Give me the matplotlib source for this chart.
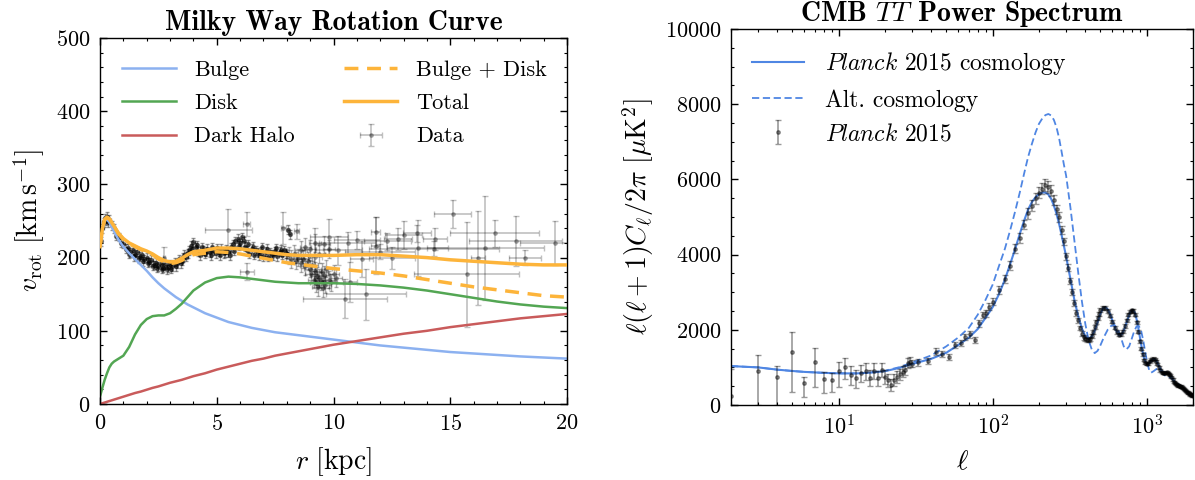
import matplotlib
matplotlib.use("Agg")
import matplotlib.pyplot as plt
from matplotlib.ticker import MultipleLocator

plt.rcParams['font.family'] = 'serif'
plt.rcParams['font.serif'] = ['cmr10']
plt.rcParams['mathtext.fontset'] = 'cm'
plt.rcParams['axes.formatter.use_mathtext'] = True
plt.rcParams['axes.unicode_minus'] = False

# ---------------- Milky Way rotation curve ----------------
r_model = [0, 0.1, 0.2, 0.3, 0.4, 0.5, 0.6, 0.8, 1.0, 1.25, 1.5, 1.75, 2.0, 2.25, 2.5,
           2.75, 3.0, 3.25, 3.5, 3.75, 4.0, 4.5, 5.0, 5.5, 6.0, 6.5, 7.0, 7.5, 8.0, 8.5,
           9.0, 10, 11, 12, 13, 14, 15, 16, 17, 18, 19, 20]
v_bulge = [215, 238, 250, 252, 248, 242, 236, 224, 215, 206, 198, 190, 182, 173, 165,
           158, 152, 146, 141, 136, 132, 124, 118, 112, 108, 104, 101, 98, 96, 94,
           92, 88, 84, 80, 77, 74, 71, 69, 67, 65, 63.5, 62]
v_disk = [10, 22, 33, 42, 50, 55, 58, 62, 66, 78, 95, 108, 116, 120, 121,
          121, 124, 130, 137, 146, 155, 166, 172, 174, 173, 171, 169, 167, 166, 165,
          165, 165, 164, 162, 159, 155, 150, 145, 140, 136, 133, 131]
v_halo = [0, 1, 2, 3, 4, 5, 6, 8, 10, 12.5, 15, 17, 19.5, 22, 24,
          26.5, 29, 31, 33, 35.5, 38, 42, 47, 51, 55, 59, 62, 66, 69, 72,
          75, 81, 86, 91, 96, 100, 105, 109, 113, 117, 120, 123]
v_bulge_disk = [215, 239, 252, 255, 253, 248, 243, 232, 225, 219, 215, 211, 208, 204, 198,
                194, 192, 193, 196, 201, 204, 206, 208, 207, 205, 202, 199, 196, 193, 191,
                189, 185, 182, 179, 175, 170, 165, 160, 156, 152, 148, 146]
v_total = [215, 239, 252, 255, 253, 248, 243, 233, 226, 220, 216, 212, 209, 205, 200,
           196, 194, 195, 199, 204, 208, 210, 213, 213, 212, 210, 208, 206, 204, 203,
           203, 203, 204, 204, 202, 200, 197, 195, 193, 191, 190, 190]

# dense inner data
r_in = [0.05, 0.1, 0.15, 0.2, 0.25, 0.3, 0.35, 0.4, 0.5, 0.6, 0.7, 0.8, 0.9, 1.0, 1.1,
        1.2, 1.3, 1.4, 1.5, 1.6, 1.7, 1.8, 1.9, 2.0, 2.1, 2.2, 2.3, 2.4, 2.5, 2.6,
        2.7, 2.8, 2.9, 3.0, 3.1, 3.2, 3.3, 3.4, 3.5, 3.6, 3.7, 3.8, 3.9, 4.0, 4.1,
        4.2, 4.3, 4.4, 4.5, 4.6, 4.7, 4.8, 4.9, 5.0, 5.1, 5.2, 5.3, 5.4, 5.5, 5.6,
        5.7, 5.8, 5.9, 6.0, 6.1, 6.2, 6.3, 6.4, 6.5, 6.6, 6.7, 6.8, 6.9, 7.0, 7.1,
        7.2, 7.3, 7.4, 7.5, 7.6, 7.7, 7.8, 7.9, 8.0]
v_in = [222, 240, 248, 254, 250, 256, 248, 252, 244, 240, 230, 228, 220, 219, 212,
        213, 207, 210, 204, 208, 201, 204, 198, 200, 194, 197, 190, 193, 188, 191,
        186, 190, 187, 191, 188, 194, 192, 198, 196, 204, 201, 210, 216, 221, 214,
        208, 203, 210, 205, 212, 207, 214, 209, 213, 208, 212, 206, 211, 207, 214,
        218, 222, 226, 220, 228, 215, 210, 205, 212, 204, 210, 203, 209, 202, 208,
        201, 207, 203, 209, 202, 208, 204, 210, 205]
# second row of the band (fills its thickness)
r_in2 = [1.25, 1.45, 1.65, 1.85, 2.05, 2.25, 2.45, 2.65, 2.85, 3.05, 3.25, 3.45,
         3.55, 3.75, 3.95, 4.15, 4.35, 4.55, 4.75, 4.95, 5.15, 5.35, 5.55, 5.75, 5.95,
         6.15, 6.35, 6.55, 6.75, 6.95, 7.15, 7.35, 7.55, 7.75, 7.95, 8.05, 8.15]
v_in2 = [205, 202, 199, 195, 193, 189, 186, 185, 184, 185, 188, 192,
         200, 206, 212, 217, 214, 208, 203, 206, 203, 207, 203, 209, 216,
         222, 218, 215, 207, 214, 212, 205, 213, 211, 206, 238, 232]
v_in_err = 6.0
r_in_err = 0.05

# cluster around 8-10 kpc
r_cl = [8.1, 8.2, 8.3, 8.4, 8.5, 8.6, 8.7, 8.8, 8.9, 9.0, 9.05, 9.1, 9.15, 9.2, 9.25,
        9.3, 9.35, 9.4, 9.45, 9.5, 9.55, 9.6, 9.65, 9.7, 9.8, 9.9, 10.0, 10.1,
        8.6, 8.8, 9.0, 9.2, 9.4, 9.6, 9.8]
v_cl = [203, 198, 205, 196, 200, 192, 198, 188, 195, 185, 178, 190, 170, 182, 165,
        175, 160, 172, 168, 180, 158, 176, 163, 185, 170, 166, 178, 172,
        210, 215, 212, 220, 205, 218, 212]
v_cl_err = 12.0
r_cl_err = 0.25

# outer data with individual errors
r_out = [2.75, 5.5, 6.28, 6.28, 7.85, 8.42, 9.2, 9.8, 10.2, 10.5, 10.6, 10.7, 11.0, 11.2,
         11.4, 11.8, 11.8, 12.0, 12.3, 12.5, 12.75, 13.0, 13.56, 13.6, 14.3, 14.35, 15.1,
         15.7, 16.2, 16.5, 16.9, 17.8, 18.2, 19.5]
v_out = [200, 238, 246, 181, 240, 236, 201, 228, 210, 144, 220, 167, 224, 198,
         150, 216, 235, 208, 222, 200, 226, 231, 233, 213, 212, 225, 260,
         177, 199, 213, 233, 223, 200, 220]
r_out_err = [0.05, 1.0, 0.15, 0.3, 0.1, 0.1, 0.3, 0.8, 1.0, 1.8, 1.2, 0.3, 1.0, 0.5,
             1.7, 0.2, 0.2, 1.5, 1.0, 1.0, 0.6, 0.8, 0.6, 1.3, 2.8, 0.5, 0.8,
             2.25, 0.3, 2.5, 1.9, 2.0, 0.7, 1.5]
v_out_err = [14, 28, 16, 11, 22, 10, 39, 25, 20, 27, 15, 27, 12, 25,
             35, 39, 20, 10, 12, 15, 15, 19, 12, 38, 10, 15, 19,
             72, 64, 71, 18, 34, 10, 30]

# ---------------- CMB TT spectrum ----------------
ell_model = [2, 3, 4, 5, 6, 8, 10, 13, 16, 20, 25, 30, 40, 50, 60, 70, 80, 90, 100, 110,
             120, 130, 140, 150, 160, 170, 180, 190, 200, 210, 220, 230, 240, 250, 260,
             270, 280, 290, 300, 320, 340, 360, 380, 400, 420, 440, 460, 480, 500, 520,
             540, 560, 580, 600, 630, 660, 690, 720, 750, 780, 810, 840, 870, 900, 930,
             960, 990, 1020, 1060, 1100, 1130, 1160, 1200, 1250, 1300, 1350, 1400, 1440,
             1480, 1530, 1580, 1630, 1680, 1730, 1780, 1840, 1900, 1960, 2000]
dl_model = [1035, 1000, 940, 905, 880, 855, 842, 840, 860, 900, 990, 1090, 1230, 1390,
            1600, 1790, 2020, 2320, 2600, 2950, 3330, 3750, 4150, 4550, 4900, 5200, 5400,
            5530, 5610, 5650, 5650, 5600, 5480, 5300, 5080, 4820, 4530, 4240, 3950, 3350,
            2780, 2350, 2030, 1830, 1760, 1820, 1980, 2200, 2420, 2570, 2600, 2540, 2410,
            2240, 2000, 1860, 1880, 2040, 2260, 2450, 2530, 2450, 2200, 1850, 1520, 1260,
            1120, 1080, 1150, 1220, 1220, 1160, 1040, 910, 860, 870, 830, 770, 690, 590,
            520, 500, 480, 440, 390, 330, 290, 260, 245]

ell_alt = [2, 3, 4, 5, 6, 8, 10, 13, 16, 20, 25, 30, 40, 50, 60, 70, 80, 90, 100, 110,
           120, 130, 140, 150, 160, 170, 180, 190, 200, 210, 220, 230, 240, 250, 260,
           270, 280, 290, 300, 320, 340, 360, 380, 400, 420, 440, 460, 480, 500, 530,
           560, 590, 620, 650, 680, 710, 740, 770, 800, 830, 860, 890, 920, 950, 980,
           1010, 1040, 1070, 1110, 1160, 1210, 1260, 1320, 1380, 1450, 1550, 1650, 1750,
           1850, 1950, 2000]
dl_alt = [1035, 1000, 940, 905, 880, 855, 842, 840, 865, 910, 1010, 1130, 1320, 1560,
          1800, 2050, 2400, 2800, 3200, 3700, 4150, 4650, 5150, 5650, 6150, 6600, 6950,
          7250, 7480, 7620, 7710, 7740, 7700, 7580, 7380, 7100, 6750, 6400, 6100, 5250,
          4350, 3500, 2750, 2150, 1720, 1480, 1380, 1440, 1580, 1820, 2010, 2110, 2120,
          2020, 1800, 1560, 1480, 1560, 1760, 1960, 2090, 2100, 1980, 1720, 1400, 1120,
          920, 860, 900, 960, 940, 860, 780, 760, 710, 600, 520, 430, 340, 270, 245]

# Planck 2015 low-ell (unbinned)
ell_lo = [2, 3, 4, 5, 6, 7, 8, 9, 10, 11, 12, 13, 14, 15, 16, 17, 18, 19, 20, 21,
          22, 23, 24, 25, 26, 27, 28, 29]
dl_lo = [250, 912, 736, 1418, 576, 1152, 683, 665, 912, 1000, 798, 709, 860, 912,
         727, 912, 709, 930, 753, 665, 532, 665, 753, 824, 886, 930, 1108, 1152]
dl_lo_minus = [250, 912, 736, 1064, 372, 680, 355, 330, 424, 300, 260, 250, 240, 235,
               225, 215, 205, 195, 185, 175, 165, 160, 155, 150, 145, 140, 135, 130]
dl_lo_plus = [700, 420, 310, 515, 177, 355, 203, 195, 223, 255, 230, 220, 215, 210,
              200, 195, 185, 180, 170, 165, 160, 155, 150, 145, 140, 135, 130, 130]

# Planck 2015 high-ell (binned)
ell_hi = [30, 33, 38, 43, 47, 52, 57, 62, 66, 71, 77, 82, 86, 90, 95,
          100, 110, 120, 130, 140, 150, 160, 170, 180, 190, 200, 210, 220, 230, 240,
          250, 260, 270, 280, 290, 300, 310, 320, 330, 340, 350, 360, 370, 380, 390,
          400, 410, 420, 430, 440, 450, 460, 470, 480, 490, 500,
          520, 540, 560, 580, 600, 620, 640, 660, 680, 700, 720, 740, 760, 780, 800,
          820, 840, 860, 880, 900, 920, 940, 960, 980, 1000,
          1025, 1050, 1075, 1100, 1125, 1150, 1175, 1200, 1225, 1250, 1275, 1300, 1325,
          1350, 1375, 1400, 1425, 1450, 1475, 1500, 1525, 1550, 1575, 1600, 1625, 1650,
          1675, 1700, 1725, 1750, 1775, 1800, 1825, 1850, 1875, 1900, 1925, 1950, 1975, 2000]
dl_hi = [1100, 1140, 1170, 1418, 1347, 1285, 1596, 1640, 1817, 1880, 1730, 2172, 2394, 2438, 2615,
         2750, 3050, 3350, 3700, 4150, 4450, 4800, 5100, 5300, 5500, 5650, 5750, 5850, 5800, 5700,
         5450, 5200, 5000, 4650, 4350, 3950, 3650, 3300, 3000, 2700, 2450, 2250, 2050, 1900, 1800,
         1750, 1720, 1720, 1760, 1840, 1950, 2080, 2200, 2320, 2430, 2520,
         2580, 2580, 2500, 2380, 2220, 2060, 1940, 1870, 1880, 1960, 2100, 2250, 2400, 2480, 2520,
         2500, 2400, 2200, 1950, 1700, 1500, 1350, 1200, 1120, 1090,
         1110, 1160, 1210, 1230, 1220, 1170, 1090, 1000, 920, 870, 850, 850, 860,
         870, 860, 830, 790, 740, 680, 620, 580, 550, 530, 520, 510, 500,
         490, 470, 450, 420, 390, 370, 350, 330, 310, 290, 280, 265, 255, 245]
dl_hi_err = [90, 90, 85, 85, 80, 80, 80, 80, 80, 85, 85, 90, 90, 95, 100,
             100, 110, 110, 120, 120, 130, 130, 140, 140, 150, 150, 150, 160, 150, 150,
             140, 130, 120, 110, 100, 100, 90, 90, 80, 80, 70, 70, 60, 60, 60,
             55, 55, 55, 55, 55, 55, 55, 55, 55, 55, 55,
             55, 55, 50, 50, 50, 45, 45, 45, 45, 45, 45, 45, 45, 45, 45,
             45, 45, 45, 40, 40, 40, 35, 35, 35, 35,
             35, 35, 35, 35, 35, 35, 30, 30, 30, 30, 30, 30, 30,
             30, 30, 30, 30, 30, 30, 30, 30, 30, 30, 30, 30, 30,
             30, 30, 30, 30, 30, 30, 30, 30, 30, 30, 30, 30, 30, 30]

c_bulge = '#8cb1f0'
c_disk = '#53a653'
c_halo = '#c95b5b'
c_orange = '#fdb43a'
c_blue = '#4f86e3'

fig = plt.figure(figsize=(11.95, 4.8), dpi=100)
ax1 = fig.add_axes([100 / 1195, 76 / 480, 467 / 1195, 366 / 480])
ax2 = fig.add_axes([731 / 1195, 75 / 480, 462 / 1195, 376 / 480])

# left panel
ax1.errorbar(r_in, v_in, xerr=r_in_err, yerr=v_in_err, fmt='o', ms=2.8, color='k',
             alpha=0.4, elinewidth=1, capsize=1.5, capthick=1, zorder=1)
ax1.errorbar(r_in2, v_in2, xerr=r_in_err, yerr=v_in_err, fmt='o', ms=2.8, color='k',
             alpha=0.4, elinewidth=1, capsize=1.5, capthick=1, zorder=1)
ax1.errorbar(r_cl, v_cl, xerr=r_cl_err, yerr=v_cl_err, fmt='o', ms=2.5, color='k',
             alpha=0.3, elinewidth=1, capsize=1.5, capthick=1, zorder=1)
ax1.errorbar(r_out, v_out, xerr=r_out_err, yerr=v_out_err, fmt='o', ms=2.5, color='k',
             alpha=0.25, elinewidth=1.2, capsize=2, capthick=1, zorder=1, label='Data')
ax1.plot(r_model, v_bulge, color=c_bulge, lw=1.8, label='Bulge', zorder=2)
ax1.plot(r_model, v_disk, color=c_disk, lw=1.8, label='Disk', zorder=2)
ax1.plot(r_model, v_halo, color=c_halo, lw=1.8, label='Dark Halo', zorder=2)
ax1.plot(r_model, v_bulge_disk, color=c_orange, lw=2.5, ls=(0, (4, 2.5)), label='Bulge + Disk', zorder=3)
ax1.plot(r_model, v_total, color=c_orange, lw=2.5, label='Total', zorder=3)

ax1.set_xlim(0, 20)
ax1.set_ylim(0, 500)
ax1.xaxis.set_major_locator(MultipleLocator(5))
ax1.xaxis.set_minor_locator(MultipleLocator(1))
ax1.yaxis.set_major_locator(MultipleLocator(100))
ax1.yaxis.set_minor_locator(MultipleLocator(20))
ax1.set_xlabel(r'$r\ [\mathrm{kpc}]$', fontsize=20, labelpad=8)
ax1.set_ylabel(r'$v_{\mathrm{rot}}\ [\mathrm{km\,s^{-1}}]$', fontsize=20, labelpad=6)
ax1.set_title('Milky Way Rotation Curve', fontfamily='cmb10', fontsize=20, pad=6)

h, l = ax1.get_legend_handles_labels()
ax1.legend(h, l, ncol=2, loc='upper left',
           frameon=False, fontsize=16, handlelength=2.4, handletextpad=0.85,
           columnspacing=2.2, borderaxespad=0.6, labelspacing=0.62)

# right panel
ax2.plot(ell_model, dl_model, color=c_blue, lw=1.5, label=r'$\mathit{Planck}$ 2015 cosmology', zorder=2)
ax2.plot(ell_alt, dl_alt, color=c_blue, lw=1.3, ls=(0, (4, 2)), label='Alt. cosmology', zorder=2)
ax2.errorbar(ell_lo, dl_lo, yerr=[dl_lo_minus, dl_lo_plus], fmt='o', ms=2.5, color='k',
             alpha=0.4, elinewidth=1.2, capsize=2, capthick=1, zorder=3, label=r'$\mathit{Planck}$ 2015')
ax2.errorbar(ell_hi, dl_hi, yerr=dl_hi_err, fmt='o', ms=2.5, color='k',
             alpha=0.4, elinewidth=1.2, capsize=2, capthick=1, zorder=3)

ax2.set_xscale('log')
ax2.set_xlim(2, 2000)
ax2.set_ylim(0, 10000)
ax2.yaxis.set_major_locator(MultipleLocator(2000))
ax2.yaxis.set_minor_locator(MultipleLocator(500))
ax2.set_xlabel(r'$\ell$', fontsize=20, labelpad=7)
ax2.set_ylabel(r'$\ell(\ell+1)C_\ell/2\pi\ [\mu\mathrm{K}^2]$', fontsize=20, labelpad=6)
ax2.set_title(r'CMB $TT$ Power Spectrum', fontfamily='cmb10', fontsize=20, pad=6)
ax2.legend(loc='upper left', frameon=False, fontsize=17, handlelength=2.2,
           handletextpad=0.9, borderaxespad=0.5, labelspacing=0.5)

for ax in (ax1, ax2):
    ax.tick_params(which='both', direction='in', top=True, right=True, labelsize=16, pad=7)
    ax.tick_params(which='major', length=5, width=1)
    ax.tick_params(which='minor', length=2.5, width=0.8)
    for s in ax.spines.values():
        s.set_linewidth(1.0)

fig.savefig('out.png', dpi=100)
